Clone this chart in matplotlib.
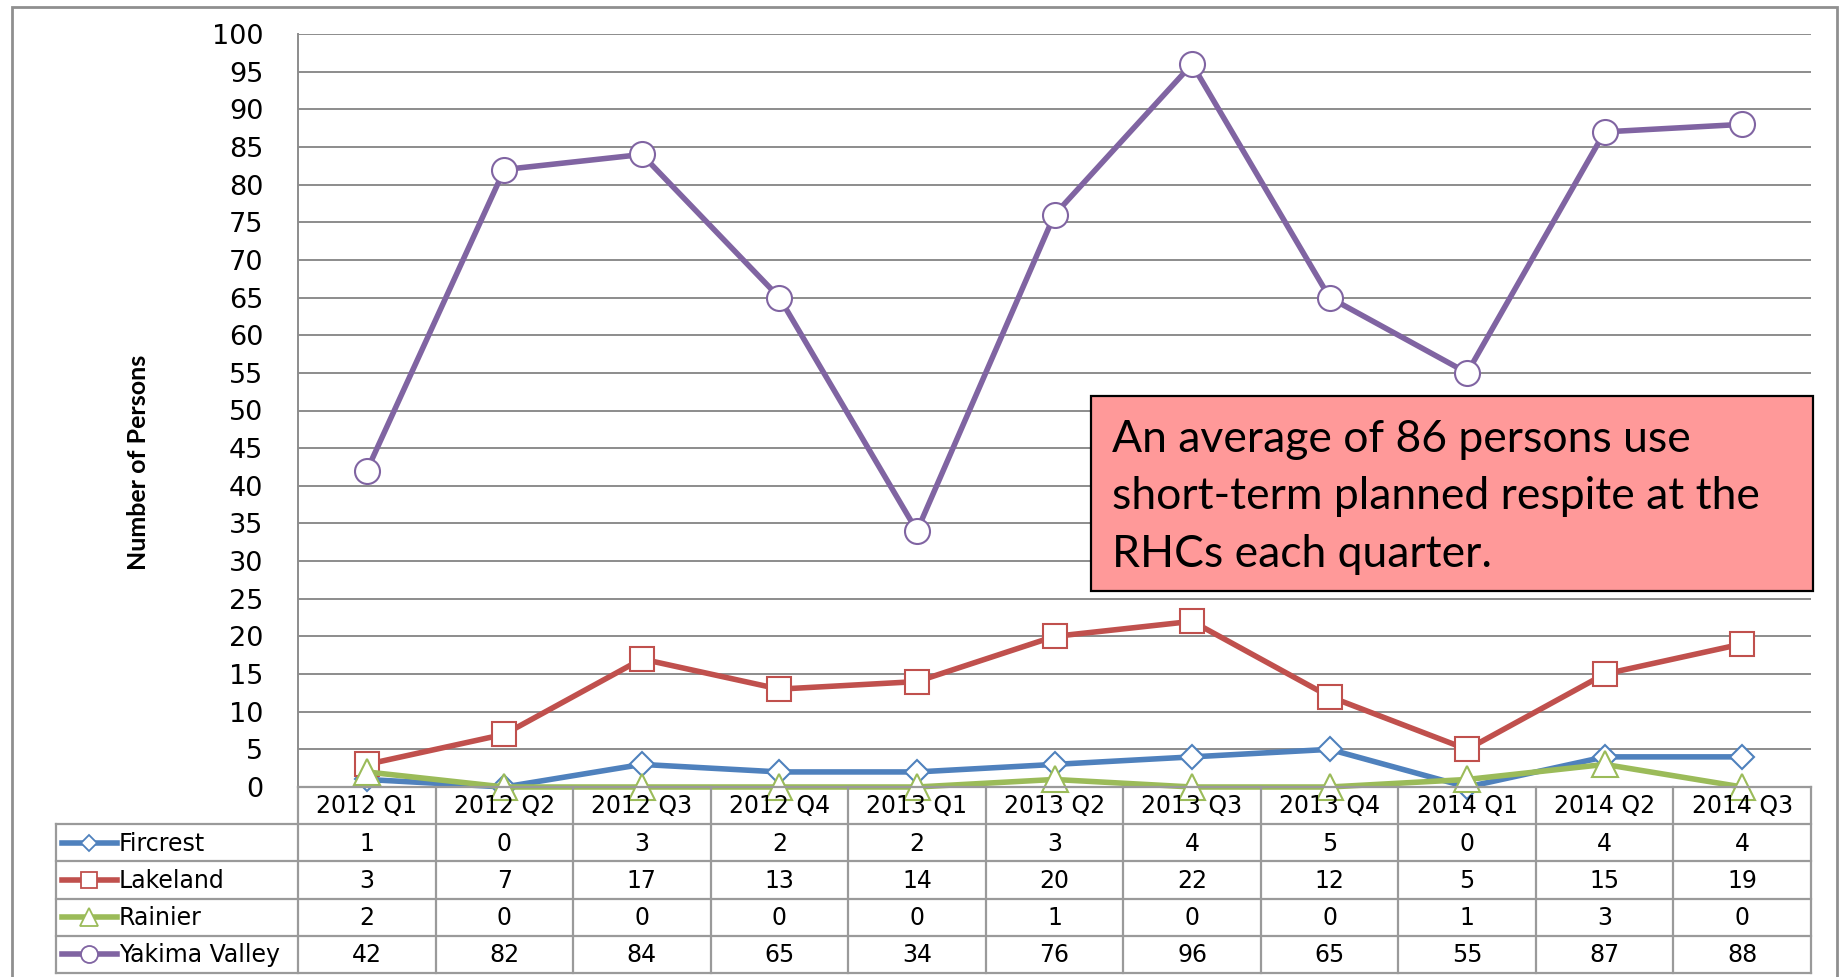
import matplotlib
matplotlib.use("Agg")
import matplotlib.pyplot as plt
from matplotlib.lines import Line2D
from matplotlib.patches import Rectangle

quarters = ["2012 Q1", "2012 Q2", "2012 Q3", "2012 Q4", "2013 Q1", "2013 Q2",
            "2013 Q3", "2013 Q4", "2014 Q1", "2014 Q2", "2014 Q3"]
fircrest = [1, 0, 3, 2, 2, 3, 4, 5, 0, 4, 4]
lakeland = [3, 7, 17, 13, 14, 20, 22, 12, 5, 15, 19]
rainier = [2, 0, 0, 0, 0, 1, 0, 0, 1, 3, 0]
yakima = [42, 82, 84, 65, 34, 76, 96, 65, 55, 87, 88]
series_names = ["Fircrest", "Lakeland", "Rainier", "Yakima Valley"]
y_ticks = list(range(0, 101, 5))
note_lines = ["An average of 86 persons use",
              "short-term planned respite at the",
              "RHCs each quarter."]

W, H = 1847, 977
GRID = "#8c8c8c"
TABLE_LINE = "#9a9a9a"
TXT = 17


def px_box(x0, y0, x1, y1):
    return [x0 / W, 1 - y1 / H, (x1 - x0) / W, (y1 - y0) / H]


fig = plt.figure(figsize=(W / 100, H / 100), dpi=100)

# outer chart frame
fig.add_artist(Rectangle((12 / W, 1 - 1000 / H), (1837 - 12) / W, 993 / H,
                         transform=fig.transFigure, fill=False,
                         edgecolor="#8f8f8f", lw=2))

ax = fig.add_axes(px_box(298, 34, 1811, 787))
tax = fig.add_axes(px_box(298, 787, 1811, 973))

styles = [
    (fircrest, "#4F81BD", "D", 12.5),
    (lakeland, "#C0504D", "s", 17),
    (rainier, "#9BBB59", "^", 19),
    (yakima, "#8064A2", "o", 18),
]

x = list(range(len(quarters)))
for (vals, color, marker, ms), name in zip(styles, series_names):
    ax.plot(x, vals, color=color, lw=4, marker=marker, ms=ms,
            mfc="white", mec=color, mew=1.5, label=name, clip_on=False,
            zorder=3)

ax.set_xlim(-0.5, len(quarters) - 0.5)
ax.set_ylim(0, 100)
ax.set_yticks(y_ticks)
ax.set_xticks([])
ax.yaxis.grid(True, color=GRID, lw=1.4)
ax.set_axisbelow(True)
ax.tick_params(axis="y", length=0, pad=25, labelsize=19.5)
for side in ("top", "right"):
    ax.spines[side].set_visible(False)
ax.spines["left"].set_color(GRID)
ax.spines["left"].set_linewidth(1.4)
ax.spines["bottom"].set_color(GRID)
ax.spines["bottom"].set_linewidth(1.4)

fig.text(139 / W, 1 - 462 / H, "Number of Persons", rotation=90,
         ha="center", va="center", fontsize=18, fontweight="bold",
         family=["Lato", "DejaVu Sans"])

# data table under the chart
col_px = 1513 / len(quarters)
legend_w = (298 - 56) / col_px
n = len(quarters)
tax.set_xlim(-0.5, n - 0.5)
tax.set_ylim(5, 0)
tax.axis("off")

left = -0.5 - legend_w
for r in range(6):
    x0 = left if r >= 1 else -0.5
    tax.add_line(Line2D([x0, n - 0.5], [r, r], color=TABLE_LINE, lw=1.6,
                        clip_on=False))
for i in range(n + 1):
    tax.add_line(Line2D([i - 0.5, i - 0.5], [0, 5], color=TABLE_LINE, lw=1.6,
                        clip_on=False))
tax.add_line(Line2D([left, left], [1, 5], color=TABLE_LINE, lw=1.6,
                    clip_on=False))

for i, q in enumerate(quarters):
    tax.text(i, 0.52, q, ha="center", va="center", fontsize=TXT)

for r, ((vals, color, marker, ms), name) in enumerate(zip(styles, series_names)):
    yc = r + 1.5
    for i, v in enumerate(vals):
        tax.text(i, yc + 0.02, str(v), ha="center", va="center", fontsize=TXT)
    lx0 = -0.5 + (62 - 298) / col_px
    lx1 = -0.5 + (117 - 298) / col_px
    tax.add_line(Line2D([lx0, lx1], [yc, yc], color=color, lw=4,
                        clip_on=False))
    tax.add_line(Line2D([(lx0 + lx1) / 2], [yc], marker=marker,
                        ms=ms * 0.68, mfc="white", mec=color, mew=1.3,
                        color=color, clip_on=False))
    tax.text(-0.5 + (119 - 298) / col_px, yc + 0.02, name, ha="left",
             va="center", fontsize=TXT)

# annotation box
fig.add_artist(Rectangle((1091 / W, 1 - 591 / H), (1813 - 1091) / W,
                         (591 - 396) / H, transform=fig.transFigure,
                         facecolor="#FF9999", edgecolor="black", lw=1.6,
                         zorder=5))
for line, base in zip(note_lines, [452, 509, 567]):
    fig.text(1112 / W, 1 - base / H, line, ha="left", va="baseline",
             fontsize=32, family=["Lato", "DejaVu Sans"], zorder=6)

fig.savefig("out.png", dpi=100)
